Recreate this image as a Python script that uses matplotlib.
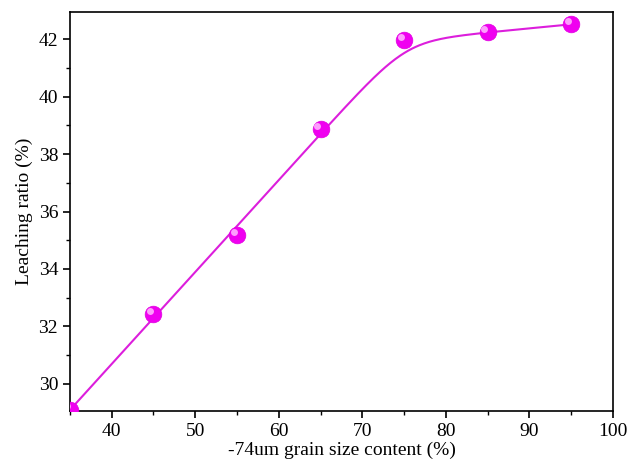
import numpy as np
import matplotlib
matplotlib.use("Agg")
import matplotlib.pyplot as plt
from matplotlib.ticker import MultipleLocator
from matplotlib import transforms

plt.rcParams['font.family'] = ['Liberation Serif', 'DejaVu Serif']

# data
grain = [35, 45, 55, 65, 75, 85, 95]
leach = [29.1, 32.43, 35.18, 38.87, 41.97, 42.24, 42.52]

# smooth fit: rising line joined to the plateau with a soft minimum
rise = np.polyfit(grain[:4], leach[:4], 1)
flat = np.polyfit(grain[5:], leach[5:], 1)
soft = 0.6
xs = np.linspace(35, 95, 400)
u = np.polyval(rise, xs)
v = np.polyval(flat, xs)
m = np.minimum(u, v)
fit = m - soft * np.log(np.exp(-(u - m) / soft) + np.exp(-(v - m) / soft))

fig = plt.figure(figsize=(6.3, 4.7), dpi=100)
ax = fig.add_axes([0.111, 0.1255, 0.862, 0.849])

ax.plot(xs, fit, color='#dc1edc', lw=1.5, zorder=2)
ax.plot(grain, leach, 'o', ms=12, color='#f000f0', mec='#e000e0', mew=0.5, zorder=3)
hl = transforms.offset_copy(ax.transData, fig=fig, x=-2.3, y=2.3, units='points')
ax.plot(grain, leach, 'o', ms=5, color='#ffb0ff', mec='none', alpha=0.9, transform=hl, zorder=4)

ax.set_xlim(35, 100)
ax.set_ylim(29.05, 42.95)
ax.xaxis.set_major_locator(MultipleLocator(10))
ax.xaxis.set_minor_locator(MultipleLocator(5))
ax.yaxis.set_major_locator(MultipleLocator(2))
ax.yaxis.set_minor_locator(MultipleLocator(1))
ax.tick_params(which='major', direction='out', length=5, width=1.2, labelsize=14)
ax.tick_params(which='minor', direction='out', length=3, width=1.0)
ax.tick_params(top=False, right=False, which='both')
for s in ax.spines.values():
    s.set_linewidth(1.2)

ax.set_xlabel('-74um grain size content (%)', fontsize=14, labelpad=1)
ax.set_ylabel('Leaching ratio (%)', fontsize=14, labelpad=4)

fig.savefig('out.png', dpi=100)
